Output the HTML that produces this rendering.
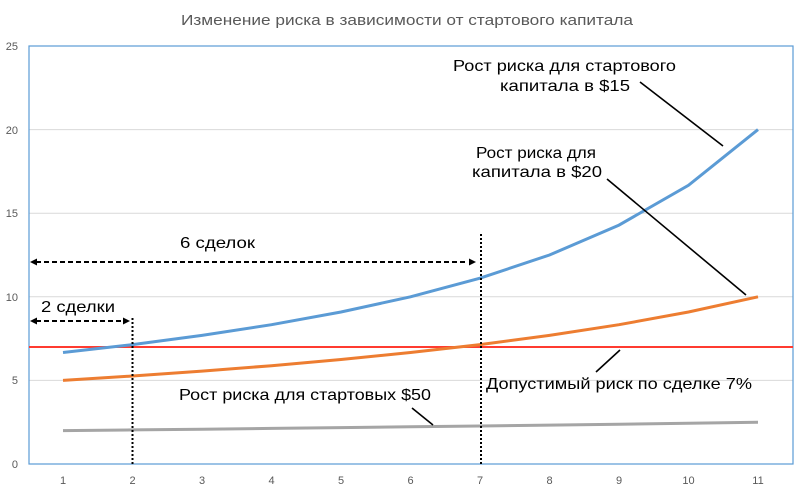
<!DOCTYPE html>
<html><head><meta charset="utf-8"><style>body{margin:0;background:#fff}svg{display:block}</style></head><body>
<svg width="798" height="493" xmlns="http://www.w3.org/2000/svg" font-family="Liberation Sans, DejaVu Sans, sans-serif">
<rect width="798" height="493" fill="#fff"/>
<text x="181" y="25" font-size="15" fill="#595959" textLength="452" lengthAdjust="spacingAndGlyphs">Изменение риска в зависимости от стартового капитала</text>
<g stroke="#d9d9d9" stroke-width="1">
<line x1="29" y1="380.4" x2="793" y2="380.4"/><line x1="29" y1="296.8" x2="793" y2="296.8"/>
<line x1="29" y1="213.2" x2="793" y2="213.2"/><line x1="29" y1="129.6" x2="793" y2="129.6"/>
</g>
<rect x="29" y="46" width="764" height="418" fill="none" stroke="#5b9bd5" stroke-width="1.2"/>
<g font-size="11" fill="#595959" text-anchor="end">
<text x="18" y="468">0</text><text x="18" y="384">5</text><text x="18" y="301">10</text><text x="18" y="217">15</text><text x="18" y="134">20</text><text x="18" y="50">25</text>
</g>
<g font-size="11" fill="#595959" text-anchor="middle">
<text x="63" y="484">1</text><text x="132.5" y="484">2</text><text x="202" y="484">3</text><text x="271.5" y="484">4</text><text x="341" y="484">5</text><text x="410.5" y="484">6</text><text x="480" y="484">7</text><text x="549.5" y="484">8</text><text x="619" y="484">9</text><text x="688.5" y="484">10</text><text x="758" y="484">11</text>
</g>
<line x1="29" y1="347" x2="793" y2="347" stroke="#ff3b30" stroke-width="2"/>
<polyline fill="none" stroke="#a5a5a5" stroke-width="3" points="63,430.6 132.5,429.9 202,429.2 271.5,428.4 341,427.6 410.5,426.8 480,426 549.5,425.1 619,424.2 688.5,423.2 758,422.2"/>
<polyline fill="none" stroke="#ed7d31" stroke-width="3" points="63,380.4 132.5,376 202,371.1 271.5,365.7 341,359.5 410.5,352.5 480,344.6 549.5,335.4 619,324.7 688.5,312 758,296.8"/>
<polyline fill="none" stroke="#5b9bd5" stroke-width="3" points="63,352.5 132.5,344.6 202,335.4 271.5,324.7 341,312 410.5,296.8 480,278.2 549.5,255 619,225.1 688.5,185.3 758,129.6"/>
<g stroke="#000" stroke-width="2" stroke-dasharray="2,2">
<line x1="132.5" y1="318" x2="132.5" y2="464"/><line x1="481" y1="234" x2="481" y2="464"/>
</g>
<g stroke="#000" stroke-width="2" stroke-dasharray="5,3">
<line x1="36" y1="321" x2="124" y2="321"/><line x1="36" y1="262" x2="468" y2="262"/>
</g>
<g fill="#000">
<polygon points="30,321 37,317.5 37,324.5"/><polygon points="130,321 123,317.5 123,324.5"/>
<polygon points="30,262 37,258.5 37,265.5"/><polygon points="476,262 469,258.5 469,265.5"/>
</g>
<g stroke="#000" stroke-width="1.6">
<line x1="640" y1="82" x2="723" y2="146"/><line x1="607" y1="179" x2="746" y2="295"/>
<line x1="620" y1="350" x2="596" y2="372"/><line x1="412" y1="408" x2="433" y2="425"/>
</g>
<g font-size="16" fill="#000" lengthAdjust="spacingAndGlyphs">
<text x="453" y="71" textLength="223" lengthAdjust="spacingAndGlyphs">Рост риска для стартового</text>
<text x="500" y="91" textLength="130" lengthAdjust="spacingAndGlyphs">капитала в $15</text>
<text x="476" y="158" textLength="120" lengthAdjust="spacingAndGlyphs">Рост риска для</text>
<text x="472" y="177" textLength="130" lengthAdjust="spacingAndGlyphs">капитала в $20</text>
<text x="180" y="248" textLength="75" lengthAdjust="spacingAndGlyphs">6 сделок</text>
<text x="41" y="312" textLength="74" lengthAdjust="spacingAndGlyphs">2 сделки</text>
<text x="179" y="400" textLength="252" lengthAdjust="spacingAndGlyphs">Рост риска для стартовых $50</text>
<text x="486" y="389" textLength="266" lengthAdjust="spacingAndGlyphs">Допустимый риск по сделке 7%</text>
</g>
</svg>
</body></html>
